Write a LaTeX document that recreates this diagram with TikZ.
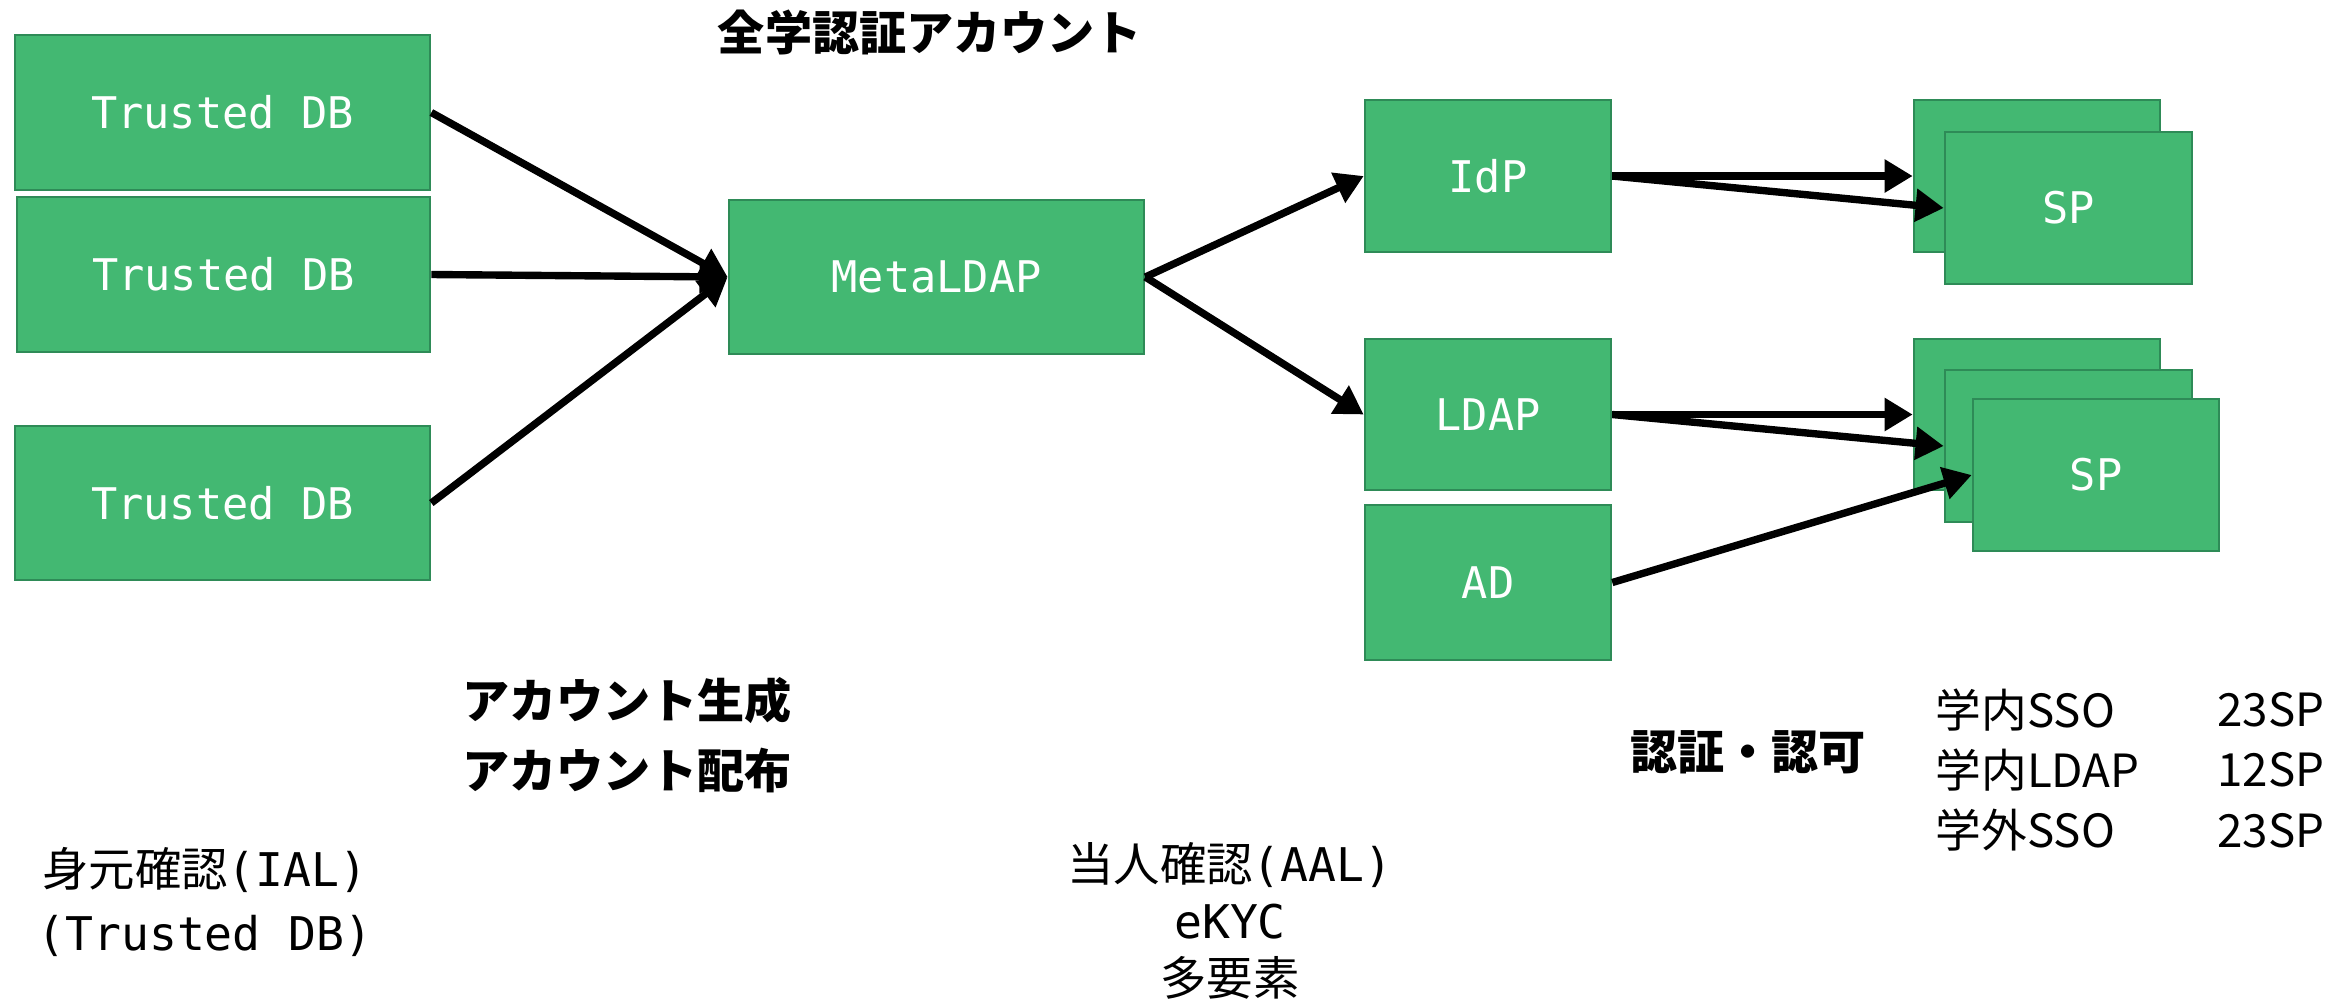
\documentclass[tikz,border=0pt]{standalone}
\usepackage{fontspec}
\setmonofont{DejaVu Sans Mono}
\newfontfamily\jp{Noto Sans CJK JP}
\usetikzlibrary{arrows.meta}
\definecolor{boxfill}{RGB}{67,184,114}
\definecolor{boxline}{RGB}{46,139,87}
\begin{document}
\begin{tikzpicture}[x=0.01cm,y=-0.01cm,
  box/.style={draw=boxline,fill=boxfill,line width=0.7pt,inner sep=0pt,text=white,
    font=\ttfamily\fontsize{12.4}{15}\selectfont},
  conn/.style={line width=2.1pt,-{Triangle[length=8pt,width=9pt]}},
  head/.style={font=\jp\bfseries\fontsize{13.4}{20}\selectfont,align=center},
  lbl/.style={font=\fontsize{13.2}{17}\selectfont,align=center}]
\useasboundingbox (0,0) rectangle (2351,999);
% boxes
\node[box,minimum width=4.15cm,minimum height=1.55cm] (tdb1) at (222.5,112.5) {Trusted DB};
\node[box,minimum width=4.13cm,minimum height=1.55cm] (tdb2) at (223.5,274.5) {Trusted DB};
\node[box,minimum width=4.15cm,minimum height=1.54cm] (tdb3) at (222.5,503) {Trusted DB};
\node[box,minimum width=4.15cm,minimum height=1.54cm] (meta) at (936.5,277) {MetaLDAP};
\node[box,minimum width=2.46cm,minimum height=1.52cm] (idp) at (1488,176) {IdP};
\node[box,minimum width=2.46cm,minimum height=1.51cm] (ldap) at (1488,414.5) {LDAP};
\node[box,minimum width=2.46cm,minimum height=1.55cm] (ad) at (1488,582.5) {AD};
\node[box,minimum width=2.46cm,minimum height=1.52cm] (spa1) at (2037,176) {};
\node[box,minimum width=2.47cm,minimum height=1.52cm] (spa2) at (2068.5,208) {SP};
\node[box,minimum width=2.46cm,minimum height=1.51cm] (spb1) at (2037,414.5) {};
\node[box,minimum width=2.47cm,minimum height=1.52cm] (spb2) at (2068.5,446) {};
\node[box,minimum width=2.46cm,minimum height=1.52cm] (spb3) at (2096,475) {SP};
% connectors
\draw[conn] (tdb1.east) -- (meta.west);
\draw[conn] (tdb2.east) -- (meta.west);
\draw[conn] (tdb3.east) -- (meta.west);
\draw[conn] (meta.east) -- (idp.west);
\draw[conn] (meta.east) -- (ldap.west);
\draw[conn] (idp.east) -- (spa1.west);
\draw[conn] (idp.east) -- (spa2.west);
\draw[conn] (ldap.east) -- (spb1.west);
\draw[conn] (ldap.east) -- (spb2.west);
\draw[conn] (ad.east) -- (spb3.west);
% labels
\node[head] (t1) at (930,32) {全学認証アカウント};
\node[head] (t2) at (627,735) {アカウント生成\\アカウント配布};
\node[head] (t3) at (1748,752) {認証・認可};
\node[lbl,font=\fontsize{13.2}{18}\selectfont] (ial) at (205,902) {{\jp 身元確認}\texttt{(IAL)}\\\texttt{(Trusted DB)}};
\node[lbl,inner sep=0pt,font=\fontsize{13.2}{16.3}\selectfont] (aal) at (1230,921) {{\jp 当人確認}\texttt{(AAL)}\\\texttt{eKYC}\\{\jp 多要素}};
\node[lbl,inner sep=0pt,anchor=west,align=left,font=\jp\fontsize{13}{17.2}\selectfont] (sso) at (1935,770) {学内SSO\\学内LDAP\\学外SSO};
\node[lbl,inner sep=0pt,anchor=east,align=right,font=\jp\fontsize{13}{17.2}\selectfont] (cnt) at (2325,770) {23SP\\12SP\\23SP};
\end{tikzpicture}
\end{document}
